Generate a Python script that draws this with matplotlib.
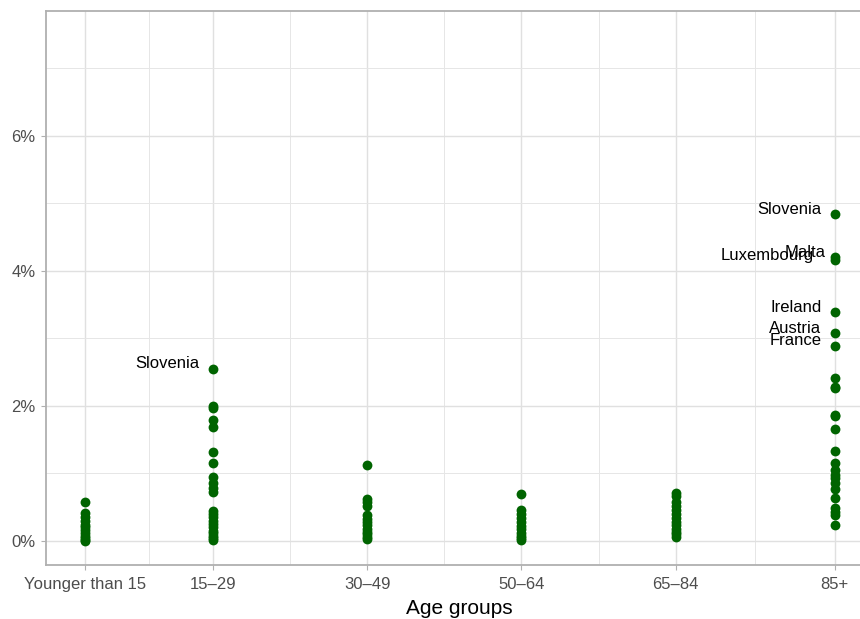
import numpy as np
import matplotlib
matplotlib.use("Agg")
import matplotlib.pyplot as plt
from matplotlib.ticker import FixedLocator, FuncFormatter

plt.rcParams['font.family'] = ['Liberation Sans', 'DejaVu Sans']

# age groups and where they sit on the (continuous) x scale
age_groups = ['Younger than 15', '15\u201329', '30\u201349', '50\u201364', '65\u201384', '85+']
age_pos = [7.5, 22, 39.5, 57, 74.5, 92.5]

# share (%) per country within each age group
young = [0.57, 0.42, 0.36, 0.30, 0.24, 0.20, 0.16, 0.12, 0.08, 0.05, 0.02, 0.0]
g15_29 = [2.55, 2.00, 1.97, 1.79, 1.69, 1.32, 1.16, 0.95, 0.86, 0.79, 0.73,
          0.45, 0.40, 0.35, 0.30, 0.25, 0.20, 0.15, 0.12, 0.08, 0.05, 0.02]
g30_49 = [1.13, 0.62, 0.57, 0.52, 0.38, 0.33, 0.28, 0.23, 0.18, 0.14, 0.10, 0.06, 0.03]
g50_64 = [0.70, 0.46, 0.40, 0.34, 0.28, 0.22, 0.17, 0.12, 0.08, 0.05, 0.02]
g65_84 = [0.71, 0.66, 0.58, 0.52, 0.46, 0.40, 0.34, 0.28, 0.23, 0.18, 0.14, 0.10, 0.06]
g85 = [4.84, 4.20, 4.16, 3.39, 3.08, 2.89, 2.41, 2.28, 2.27, 1.87, 1.85, 1.66,
       1.33, 1.16, 1.05, 0.98, 0.93, 0.86, 0.77, 0.64, 0.49, 0.43, 0.38, 0.24]
groups = [young, g15_29, g30_49, g50_64, g65_84, g85]

# labelled outliers: (country, age group index, value)
labels = [('Slovenia', 1, 2.55), ('Slovenia', 5, 4.84), ('Malta', 5, 4.20),
          ('Luxembourg', 5, 4.16), ('Ireland', 5, 3.39), ('Austria', 5, 3.08),
          ('France', 5, 2.89)]
label_dx = {'Luxembourg': -21, 'Malta': -9}

fig = plt.figure(figsize=(8.6, 6.19), dpi=100)
ax = fig.add_axes([46 / 860, 54 / 619, 826 / 860, 554 / 619])

for x, vals in zip(age_pos, groups):
    ax.scatter(np.full(len(vals), x), vals, s=50, color='#006400',
               linewidths=0, zorder=3)

for name, gi, v in labels:
    dx = label_dx.get(name, -13) * 0.72
    ax.annotate(name, (age_pos[gi], v), xytext=(dx, 3.6), textcoords='offset points',
                ha='right', va='center', fontsize=12, color='black', zorder=4)

ax.set_xlim(3.08, 96.75)
ax.set_ylim(-0.356, 7.85)

ax.xaxis.set_major_locator(FixedLocator(age_pos))
ax.set_xticklabels(age_groups)
mids = [(a + b) / 2 for a, b in zip(age_pos[:-1], age_pos[1:])]
ax.xaxis.set_minor_locator(FixedLocator(mids))
ax.yaxis.set_major_locator(FixedLocator([0, 2, 4, 6]))
ax.yaxis.set_minor_locator(FixedLocator([1, 3, 5, 7]))
ax.yaxis.set_major_formatter(FuncFormatter(lambda v, p: f'{v:.0f}%'))

ax.grid(which='major', color='#e0e0e0', linewidth=1.0, zorder=0)
ax.grid(which='minor', color='#e6e6e6', linewidth=0.7, zorder=0)
ax.set_axisbelow(True)

for side in ['left', 'top', 'bottom', 'right']:
    ax.spines[side].set_color('#b0b0b0')
    ax.spines[side].set_linewidth(1.3)

ax.tick_params(which='major', length=3.5, width=0.8, color='#b0b0b0',
               labelsize=12, labelcolor='#4d4d4d', pad=4)
ax.tick_params(axis='x', which='major', pad=5)
ax.tick_params(which='minor', length=0)

ax.set_xlabel('Age groups', fontsize=15, color='black', labelpad=5)

fig.savefig('out.png', dpi=100)
